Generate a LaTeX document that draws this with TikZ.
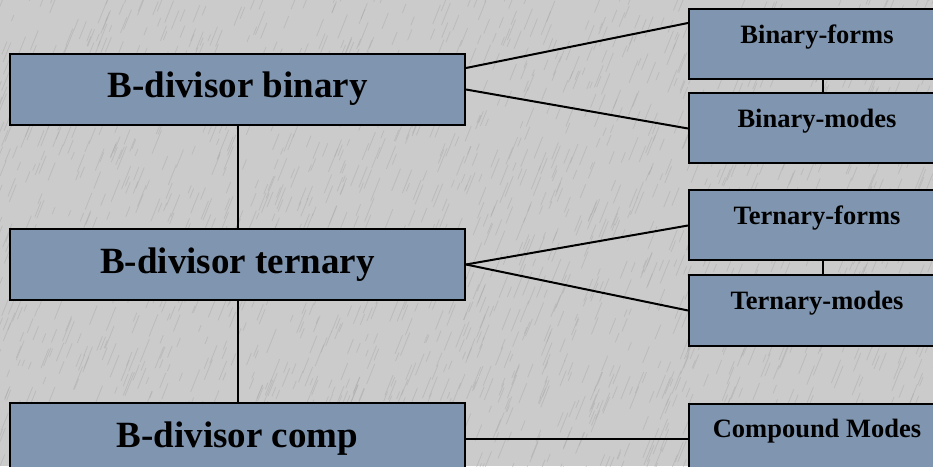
\documentclass[tikz,border=0pt]{standalone}
\usepackage{fontspec}
\setmainfont{Liberation Serif}
\usepackage{xcolor}
\usepackage{tikz}
\usetikzlibrary{positioning}
\definecolor{boxfill}{RGB}{128,150,176}
\definecolor{paper}{RGB}{203,203,203}
\definecolor{scratch}{RGB}{168,168,168}
\tikzset{
  bigbox/.style={rectangle, draw=black, line width=2pt, fill=boxfill,
    minimum width=455pt, inner xsep=0pt, inner ysep=0pt,
    text height=44pt, text depth=27pt, font=\fontsize{37}{40}\selectfont\bfseries},
  smallbox/.style={rectangle, draw=black, line width=2pt, fill=boxfill,
    minimum width=256pt, inner xsep=0pt, inner ysep=0pt,
    text height=34pt, text depth=36pt, font=\fontsize{26.5}{30}\selectfont\bfseries},
  link/.style={line width=2pt, draw=black},
}

\begin{document}
\begin{tikzpicture}[x=1pt, y=1pt]
  \clip (0,0) rectangle (933,466);
  % paper texture
  \fill[paper] (0,0) rectangle (933,466);
  \pgfmathsetseed{11}
  \foreach \i in {1,...,2200}{
    \pgfmathsetmacro{\px}{rnd*960-20}
    \pgfmathsetmacro{\py}{rnd*500-30}
    \pgfmathsetmacro{\ln}{6+rnd*18}
    \draw[scratch, line width=0.8pt, opacity=0.45] (\px,\py) -- ++(0.4*\ln,\ln);
  }

  \node[bigbox] (bin) at (237.5,376.5) {B-divisor binary};
  \node[bigbox, below=102pt of bin] (ter) {B-divisor ternary};
  \node[bigbox, below=101pt of ter] (comp) {B-divisor comp};

  \node[smallbox] (bforms) at (817,421.5) {Binary-forms};
  \node[smallbox, below=12pt of bforms] (bmodes) {Binary-modes};
  \node[smallbox, below=25pt of bmodes] (tforms) {Ternary-forms};
  \node[smallbox, below=13pt of tforms] (tmodes) {Ternary-modes};
  \node[smallbox] (cmodes) at (bforms |- comp) {Compound Modes};

  \draw[link] (bin) -- (ter);
  \draw[link] (ter) -- (comp);
  \draw[link] ([xshift=6pt]bforms.south) -- ([xshift=6pt]bmodes.north);
  \draw[link] ([xshift=6pt]tforms.south) -- ([xshift=6pt]tmodes.north);

  \draw[link] ([yshift=21.5pt]bin.east) -- ([yshift=21.5pt]bforms.west);
  \draw[link] (bin.east) -- (bmodes.west);
  \draw[link] (ter.east) -- (tforms.west);
  \draw[link] (ter.east) -- (tmodes.west);
  \draw[link] (comp) -- (cmodes);
\end{tikzpicture}
\end{document}
